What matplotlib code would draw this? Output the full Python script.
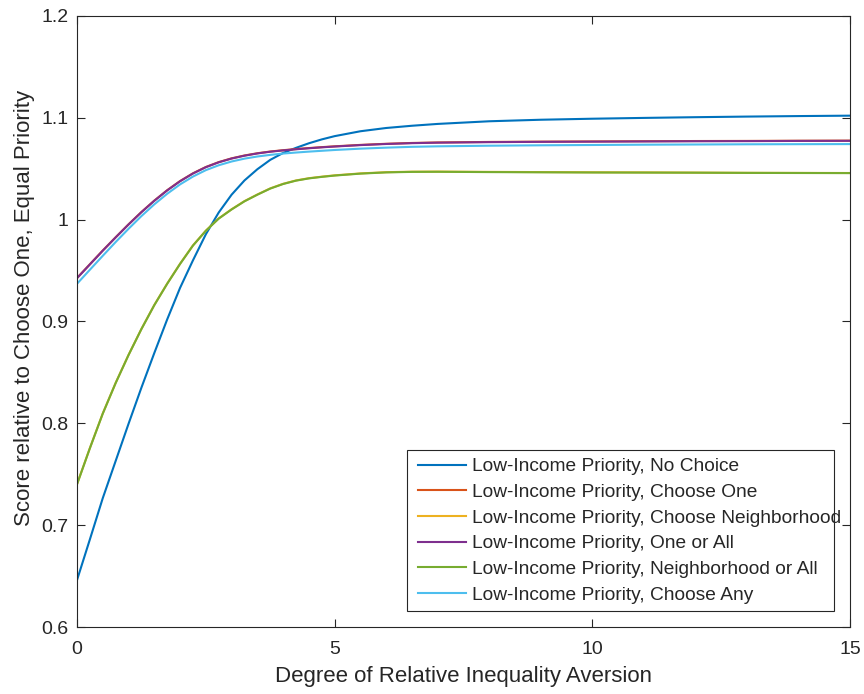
import matplotlib
matplotlib.use("Agg")
import matplotlib.pyplot as plt
from matplotlib.patches import Rectangle

plt.rcParams['font.family'] = ['Liberation Sans', 'DejaVu Sans']

# degree of relative inequality aversion
x_vals = [0, 0.25, 0.5, 0.75, 1.0, 1.25, 1.5, 1.75, 2.0, 2.25, 2.5, 2.75, 3.0,
          3.25, 3.5, 3.75, 4.0, 4.25, 4.5, 4.75, 5.0, 5.5, 6, 6.5, 7, 8, 9,
          10, 11, 12, 13, 14, 15]

no_choice = [0.646, 0.686, 0.7265, 0.763, 0.7995, 0.835, 0.869, 0.902, 0.933,
             0.960, 0.9856, 1.0070, 1.0245, 1.0385, 1.0495, 1.0587, 1.0655,
             1.0705, 1.0750, 1.0788, 1.0820, 1.0868, 1.0900, 1.0922, 1.0940,
             1.0966, 1.0981, 1.0991, 1.0999, 1.1006, 1.1012, 1.1017, 1.1021]
choose_one = [0.9427, 0.9562, 0.9697, 0.9827, 0.9954, 1.0075, 1.0187, 1.0289,
              1.0379, 1.0455, 1.0517, 1.0565, 1.0602, 1.0630, 1.0652, 1.0669,
              1.0682, 1.0693, 1.0703, 1.0712, 1.0720, 1.0734, 1.0745, 1.0753,
              1.0758, 1.0763, 1.0766, 1.0768, 1.0770, 1.0772, 1.0773, 1.0775,
              1.0776]
choose_neigh = [0.7402, 0.7757, 0.8097, 0.8397, 0.8672, 0.8927, 0.9162, 0.9372,
                0.9567, 0.9747, 0.9892, 1.0012, 1.0102, 1.0182, 1.0247, 1.0307,
                1.0352, 1.0385, 1.0407, 1.0422, 1.0435, 1.0454, 1.0466, 1.0471,
                1.0472, 1.0469, 1.0467, 1.0465, 1.0464, 1.0462, 1.0460, 1.0459,
                1.0458]
one_or_all = [0.9425, 0.9560, 0.9695, 0.9825, 0.9952, 1.0073, 1.0185, 1.0287,
              1.0377, 1.0453, 1.0515, 1.0563, 1.0600, 1.0628, 1.0650, 1.0667,
              1.0680, 1.0691, 1.0701, 1.0710, 1.0718, 1.0732, 1.0743, 1.0751,
              1.0756, 1.0761, 1.0764, 1.0766, 1.0768, 1.0770, 1.0771, 1.0773,
              1.0774]
neigh_or_all = [0.740, 0.7755, 0.8095, 0.8395, 0.8670, 0.8925, 0.9160, 0.9370,
                0.9565, 0.9745, 0.9890, 1.0010, 1.0100, 1.0180, 1.0245, 1.0305,
                1.0350, 1.0383, 1.0405, 1.0420, 1.0433, 1.0452, 1.0464, 1.0469,
                1.0470, 1.0467, 1.0465, 1.0463, 1.0462, 1.0461, 1.0459, 1.0458,
                1.0457]
choose_any = [0.9370, 0.9508, 0.9645, 0.9780, 0.9910, 1.0035, 1.0150, 1.0254,
              1.0346, 1.0423, 1.0486, 1.0534, 1.0571, 1.0599, 1.0620, 1.0636,
              1.0649, 1.0659, 1.0668, 1.0676, 1.0684, 1.0697, 1.0707, 1.0715,
              1.0720, 1.0726, 1.0730, 1.0733, 1.0736, 1.0738, 1.0740, 1.0741,
              1.0742]

labels = ["Low-Income Priority, No Choice",
          "Low-Income Priority, Choose One",
          "Low-Income Priority, Choose Neighborhood",
          "Low-Income Priority, One or All",
          "Low-Income Priority, Neighborhood or All",
          "Low-Income Priority, Choose Any"]
colors = ["#0072BD", "#D95319", "#EDB120", "#7E2F8E", "#77AC30", "#4DBEEE"]

xticks = [0, 5, 10, 15]
yticks = [0.6, 0.7, 0.8, 0.9, 1.0, 1.1, 1.2]
yticklabels = ["0.6", "0.7", "0.8", "0.9", "1", "1.1", "1.2"]

series = [no_choice, choose_one, choose_neigh, one_or_all, neigh_or_all,
          choose_any]

fig = plt.figure(figsize=(8.64, 6.94), dpi=100)
ax = fig.add_axes([0.0891, 0.0965, 0.8947, 0.8805])

txt = "#262626"
for ys, lab, c in zip(series, labels, colors):
    ax.plot(x_vals, ys, color=c, lw=1.5, label=lab)

ax.set_xlim(0, 15)
ax.set_ylim(0.6, 1.2)
ax.set_xticks(xticks)
ax.set_yticks(yticks)
ax.set_yticklabels(yticklabels)
ax.tick_params(direction='in', length=5.5, width=0.8, colors=txt,
               labelsize=14, top=True, right=True, pad=6)
ax.tick_params(axis='x', pad=10)
for s in ax.spines.values():
    s.set_color(txt)
    s.set_linewidth(0.8)

ax.set_xlabel("Degree of Relative Inequality Aversion", fontsize=16,
              color=txt, labelpad=6)
ax.set_ylabel("Score relative to Choose One, Equal Priority", fontsize=16,
              color=txt)
ax.yaxis.set_label_coords(-0.054, 0.523)

# legend box (drawn separately so the long label may run past it, as in the original)
ax.add_patch(Rectangle((0.4269, 0.0262), 0.5524, 0.2635, transform=ax.transAxes,
                       facecolor='white', edgecolor=txt, linewidth=0.8,
                       zorder=4.5, clip_on=False))
leg = ax.legend(loc='center left', bbox_to_anchor=(0.4411, 0.1574),
                fontsize=13.8, frameon=False, handlelength=2.5,
                handletextpad=0.31, labelspacing=0.43, borderpad=0,
                borderaxespad=0)
leg.set_zorder(5)
for t in leg.get_texts():
    t.set_color(txt)

fig.savefig("out.png", dpi=100)
